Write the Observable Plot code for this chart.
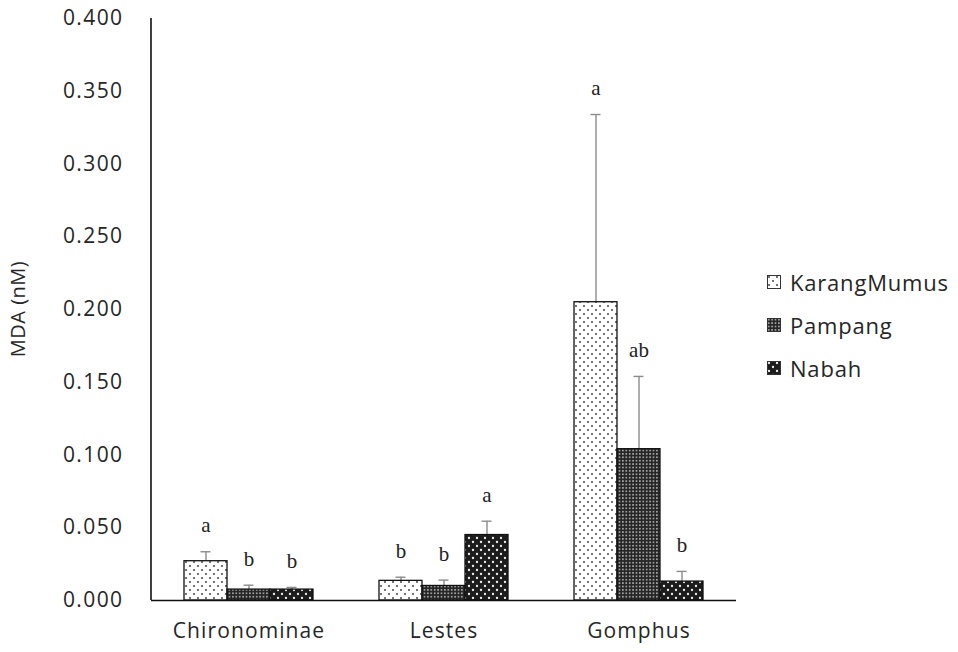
<!DOCTYPE html>
<html>
<head>
<meta charset="utf-8">
<script src="https://cdn.jsdelivr.net/npm/d3@7"></script>
<script src="https://cdn.jsdelivr.net/npm/@observablehq/plot@0.6"></script>
<style>
  html, body { margin: 0; padding: 0; background: #fff; }
  #wrap { position: relative; width: 958px; height: 652px; }
  #legend { position: absolute; left: 767px; top: 260px; font-family: "Open Sans", sans-serif; font-size: 22px; color: #262626; letter-spacing: 0.8px; }
  .item { display: flex; align-items: center; height: 43px; }
  .item svg { margin-right: 9px; }
</style>
</head>
<body>
<div id="wrap"><div id="legend"></div></div>
<script>
const categories = ["Chironominae", "Lestes", "Gomphus"];
const series = ["KarangMumus", "Pampang", "Nabah"];
const means = {
  KarangMumus: [0.027, 0.0135, 0.205],
  Pampang:     [0.0075, 0.010, 0.104],
  Nabah:       [0.0075, 0.045, 0.013]
};
const errors = {
  KarangMumus: [0.0065, 0.0025, 0.129],
  Pampang:     [0.003, 0.004, 0.050],
  Nabah:       [0.0015, 0.0095, 0.007]
};
const letters = {
  KarangMumus: ["a", "b", "a"],
  Pampang:     ["b", "b", "ab"],
  Nabah:       ["b", "a", "b"]
};
const yTicks = [0, 0.05, 0.1, 0.15, 0.2, 0.25, 0.3, 0.35, 0.4];
const patternIds = {KarangMumus: "pKM", Pampang: "pPA", Nabah: "pNA"};

const data = [];
series.forEach(s => categories.forEach((c, i) => {
  data.push({category: c, series: s, value: means[s][i], err: means[s][i] + errors[s][i], letter: letters[s][i]});
}));

const sans = "'Open Sans', sans-serif";
const plot = Plot.plot({
  width: 958,
  height: 652,
  marginLeft: 151,
  marginRight: 222,
  marginTop: 18,
  marginBottom: 52,
  style: {fontFamily: sans, fontSize: "21px", color: "#262626", background: "#fff"},
  fx: {domain: categories, padding: 0, label: null},
  x: {domain: series, paddingInner: 0, paddingOuter: 0.73, axis: null},
  y: {domain: [0, 0.4], ticks: yTicks, label: null},
  marks: [
    Plot.axisY({ticks: yTicks, tickSize: 0, tickPadding: 28, tickFormat: d3.format(".3f"), label: null}),
    Plot.axisFx({anchor: "bottom", tickSize: 0, tickPadding: 23, label: null}),
    Plot.ruleX(data, {fx: "category", x: "series", y1: "value", y2: "err", stroke: "#8c8c8c", strokeWidth: 1.4}),
    Plot.tickY(data, {fx: "category", x: "series", y: "err", stroke: "#8c8c8c", strokeWidth: 1.4, insetLeft: 16.5, insetRight: 16.5}),
    Plot.barY(data, {fx: "category", x: "series", y: "value", fill: d => `url(#${patternIds[d.series]})`, stroke: "#111", strokeWidth: 1.3}),
    Plot.ruleY([0], {stroke: "#111", strokeWidth: 1.6}),
    Plot.text(data, {fx: "category", x: "series", y: "err", text: "letter", dy: -26, fontFamily: "'Liberation Serif', serif", fontSize: 21, fill: "#222"})
  ]
});

const svg = d3.select(plot);
const defs = svg.insert("defs", ":first-child");
function addPattern(id, size, bg, dots, dotFill, r) {
  const p = defs.append("pattern").attr("id", id).attr("patternUnits", "userSpaceOnUse").attr("width", size).attr("height", size);
  p.append("rect").attr("width", size).attr("height", size).attr("fill", bg);
  dots.forEach(([cx, cy]) => p.append("circle").attr("cx", cx).attr("cy", cy).attr("r", r).attr("fill", dotFill));
}
addPattern("pKM", 8, "#fff", [[2, 2], [6, 6]], "#333", 0.9);
addPattern("pPA", 3.4, "#262626", [[1.7, 1.7]], "#ddd", 0.75);
addPattern("pNA", 8, "#1c1c1c", [[2, 2], [6, 6]], "#f2f2f2", 1.15);

// left axis line and y-axis title
const y = plot.scale("y");
svg.append("line").attr("x1", 151).attr("x2", 151).attr("y1", y.apply(0.4)).attr("y2", y.apply(0))
  .attr("stroke", "#111").attr("stroke-width", 1.6);
svg.append("text").attr("transform", `translate(25,${(y.apply(0) + y.apply(0.4)) / 2}) rotate(-90)`)
  .attr("text-anchor", "middle").attr("font-family", sans).attr("font-size", 20).attr("fill", "#262626")
  .attr("letter-spacing", 0.5).text("MDA (nM)");
svg.selectAll("g[aria-label='y-axis tick label']").attr("font-size", 21).selectAll("text").attr("letter-spacing", 1.4);
svg.selectAll("g[aria-label='fx-axis tick label']").attr("font-size", 21).selectAll("text").attr("letter-spacing", 1.1);

document.getElementById("wrap").prepend(plot);
plot.style.position = "absolute";
plot.style.left = "0";
plot.style.top = "0";

const legend = document.getElementById("legend");
series.forEach(s => {
  const item = document.createElement("div");
  item.className = "item";
  item.innerHTML = `<svg width="14" height="14"><defs>${defs.node().innerHTML}</defs><rect x="0.5" y="0.5" width="13" height="13" fill="url(#${patternIds[s]})" stroke="#333" stroke-width="1"/></svg><span>${s}</span>`;
  legend.appendChild(item);
});
</script>
</body>
</html>
